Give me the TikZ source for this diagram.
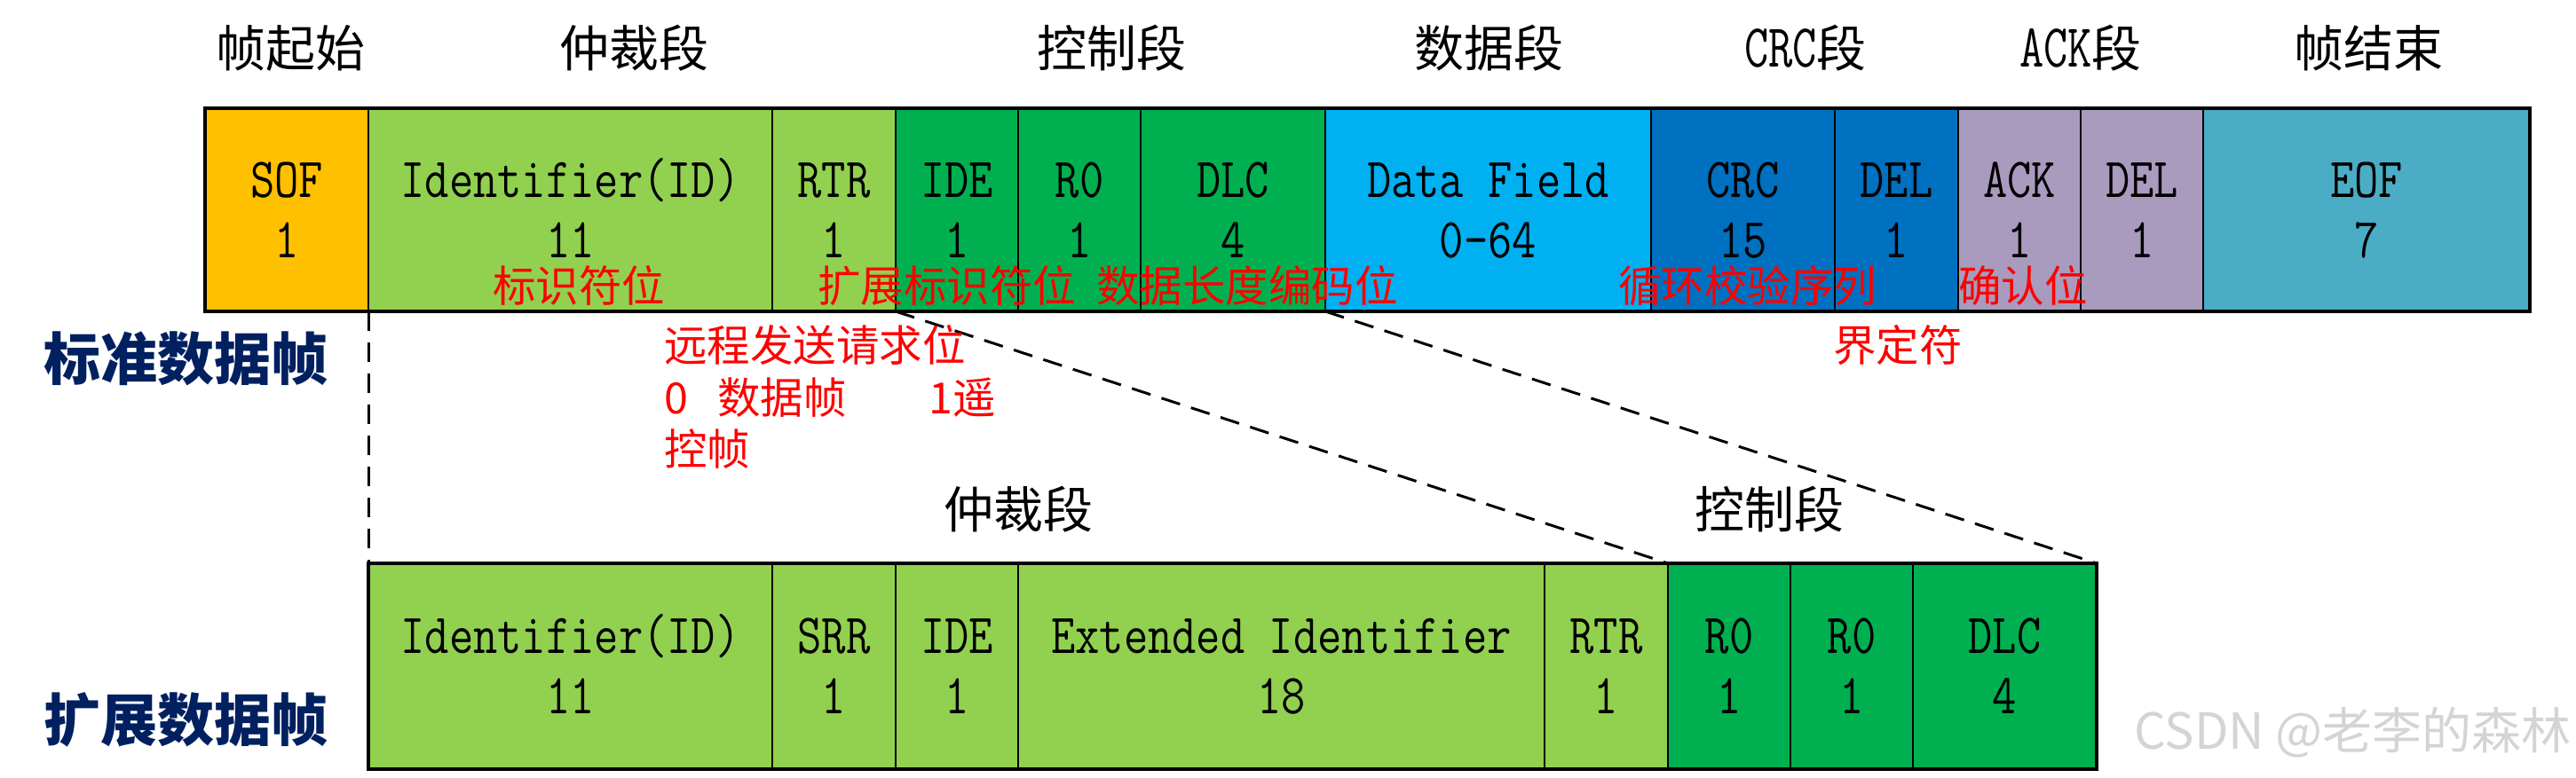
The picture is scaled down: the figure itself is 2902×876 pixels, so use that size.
\documentclass[tikz,border=0pt]{standalone}
\usepackage{fontspec}
\setmainfont{Noto Sans CJK SC}
\usepackage{graphicx}
\definecolor{sofc}{HTML}{FFC000}
\definecolor{idc}{HTML}{92D050}
\definecolor{ctrlc}{HTML}{00B050}
\definecolor{datac}{HTML}{00B0F0}
\definecolor{crcc}{HTML}{0070C0}
\definecolor{ackc}{HTML}{A99BBE}
\definecolor{eofc}{HTML}{4BACC6}
\definecolor{navyc}{HTML}{002060}
\definecolor{wmgray}{HTML}{D4D4D4}
\newcommand{\ct}[2]{\raisebox{-6pt}[\height][\depth]{\scalebox{1}[1.2]{\fontsize{53}{56.7}\selectfont\ttfamily\begin{tabular}{@{}c@{}}#1\\#2\end{tabular}}}}
\newcommand{\hlat}[1]{\scalebox{1}[1.3]{\fontsize{53}{60}\selectfont\ttfamily #1}}
\begin{document}
\begin{tikzpicture}[x=1pt,y=-1pt,
  cell/.style={draw=black, line width=2.5pt, outer sep=0pt, inner sep=0pt, minimum height=229pt},
  bcell/.style={cell, minimum height=232pt},
  frame/.style={draw=black, line width=4.5pt},
  dashline/.style={draw=black, line width=3pt, dash pattern=on 22pt off 13pt},
  hdr/.style={inner sep=0pt, font=\fontsize{56}{60}\selectfont},
  redlbl/.style={text=red, inner sep=0pt, anchor=west, font=\fontsize{48.5}{58}\selectfont},
  sidelbl/.style={text=navyc, inner sep=0pt, font=\fontsize{64}{70}\selectfont\bfseries}]
\useasboundingbox (0,0) rectangle (2902,876);
% headers
\node[hdr] (h1) at (327,54) {帧起始};
\node[hdr] (h2) at (714,54) {仲裁段};
\node[hdr] (h3) at (1252,54) {控制段};
\node[hdr] (h4) at (1677,54) {数据段};
\node[hdr] (h5) at (2034,54) {\hlat{CRC}段};
\node[hdr] (h6) at (2344,54) {\hlat{ACK}段};
\node[hdr] (h7) at (2668,54) {帧结束};
% standard frame
\node[cell, fill=sofc, minimum width=184pt] (sof) at (323,236.5) {\ct{SOF}{1}};
\node[cell, fill=idc, minimum width=455pt] (id) at (642.5,236.5) {\ct{Identifier(ID)}{11}};
\node[cell, fill=idc, minimum width=139pt] (rtr) at (939.5,236.5) {\ct{RTR}{1}};
\node[cell, fill=ctrlc, minimum width=138pt] (ide) at (1078,236.5) {\ct{IDE}{1}};
\node[cell, fill=ctrlc, minimum width=138pt] (rz) at (1216,236.5) {\ct{R0}{1}};
\node[cell, fill=ctrlc, minimum width=208pt] (dlc) at (1389,236.5) {\ct{DLC}{4}};
\node[cell, fill=datac, minimum width=367pt] (data) at (1676.5,236.5) {\ct{Data Field}{0-64}};
\node[cell, fill=crcc, minimum width=207pt] (crc) at (1963.5,236.5) {\ct{CRC}{15}};
\node[cell, fill=crcc, minimum width=139pt] (del1) at (2136.5,236.5) {\ct{DEL}{1}};
\node[cell, fill=ackc, minimum width=138pt] (ack) at (2275,236.5) {\ct{ACK}{1}};
\node[cell, fill=ackc, minimum width=138pt] (del2) at (2413,236.5) {\ct{DEL}{1}};
\node[cell, fill=eofc, minimum width=368pt] (eof) at (2666,236.5) {\ct{EOF}{7}};
\draw[frame] (sof.north west) rectangle (eof.south east);
% extended frame
\node[bcell, fill=idc, minimum width=455pt] (bid) at (642.5,751) {\ct{Identifier(ID)}{11}};
\node[bcell, fill=idc, minimum width=139pt] (bsrr) at (939.5,751) {\ct{SRR}{1}};
\node[bcell, fill=idc, minimum width=138pt] (bide) at (1078,751) {\ct{IDE}{1}};
\node[bcell, fill=idc, minimum width=593pt] (bext) at (1443.5,751) {\ct{Extended Identifier}{18}};
\node[bcell, fill=idc, minimum width=139pt] (brtr) at (1809.5,751) {\ct{RTR}{1}};
\node[bcell, fill=ctrlc, minimum width=138pt] (brza) at (1948,751) {\ct{R0}{1}};
\node[bcell, fill=ctrlc, minimum width=138pt] (brzb) at (2086,751) {\ct{R0}{1}};
\node[bcell, fill=ctrlc, minimum width=207pt] (bdlc) at (2258.5,751) {\ct{DLC}{4}};
\draw[frame] (bid.north west) rectangle (bdlc.south east);
% lower headers
\node[hdr] (lh1) at (1147,574) {仲裁段};
\node[hdr] (lh2) at (1993,574) {控制段};
% dashed connectors
\draw[dashline] (sof.south east) -- (bid.north west);
\draw[dashline] (ide.south west) -- (brza.north west);
\draw[dashline] (dlc.south east) -- (bdlc.north east);
% red notes
\node[redlbl, anchor=center] (n1) at (652,322) {标识符位};
\node[redlbl] (n2) at (921,322) {扩展标识符位};
\node[redlbl] (n3) at (1235,322) {数据长度编码位};
\node[redlbl] (n4) at (1823,322) {循环校验序列};
\node[redlbl] (n5) at (2206,322) {确认位};
\node[redlbl] (n6) at (2065,389) {界定符};
\node[redlbl] (n7) at (748,389) {远程发送请求位};
\node[redlbl] (n8) at (748,448) {0\hspace{33pt}数据帧\hspace{93pt}1遥};
\node[redlbl] (n9) at (748,506) {控帧};
% side labels
\node[sidelbl] (std) at (209,404) {标准数据帧};
\node[sidelbl] (ext) at (209,811) {扩展数据帧};
% watermark
\node[anchor=east, inner sep=0pt, text=wmgray, font=\fontsize{56}{60}\selectfont] (wm) at (2897,826) {CSDN @老李的森林};
\end{tikzpicture}
\end{document}
